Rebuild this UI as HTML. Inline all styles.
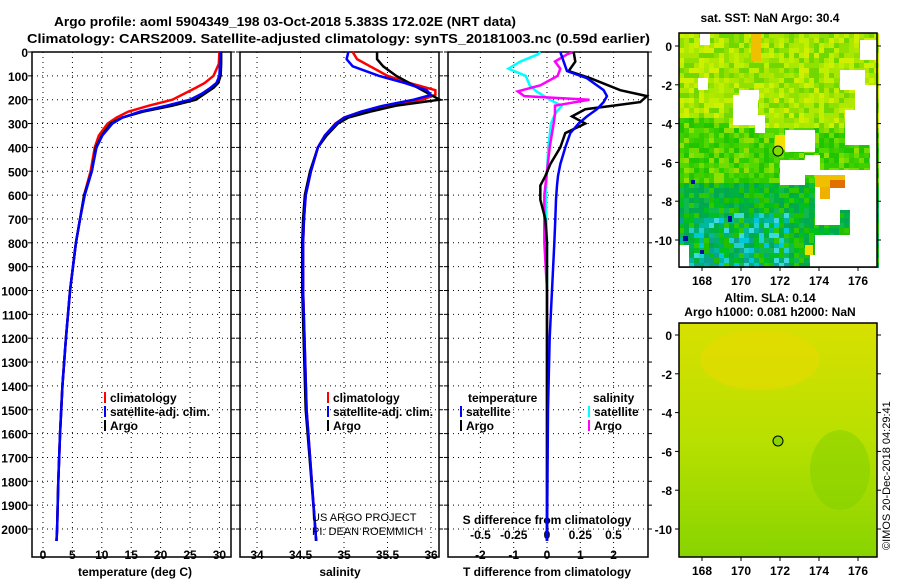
<!DOCTYPE html>
<html><head><meta charset="utf-8"><style>
body{margin:0;background:#fff;}
svg{display:block;font-family:"Liberation Sans",sans-serif;font-weight:bold;}
</style></head><body>
<svg id="c" width="900" height="580" viewBox="0 0 900 580">
<defs><linearGradient id="sla" x1="0" y1="0" x2="0" y2="1"><stop offset="0" stop-color="#d8e000"/><stop offset="0.5" stop-color="#b8e000"/><stop offset="1" stop-color="#88d400"/></linearGradient></defs>
<text x="54" y="26" font-size="13" textLength="462" lengthAdjust="spacingAndGlyphs">Argo profile: aoml 5904349_198 03-Oct-2018 5.383S 172.02E (NRT data)</text>
<text x="27" y="43" font-size="13" textLength="623" lengthAdjust="spacingAndGlyphs">Climatology: CARS2009. Satellite-adjusted climatology: synTS_20181003.nc (0.59d earlier)</text>
<text x="890" y="550" font-size="11" font-weight="normal" transform="rotate(-90 890 550)">©IMOS 20-Dec-2018 04:29:41</text>
</svg>
<script>
// ---- data ----
const depthT = [0,50,100,130,150,175,200,225,250,275,300,350,400,500,600,700,800,900,1000,1200,1400,1600,1800,2000,2050];
const argoT  = [30.3,30.3,30.2,29.8,29,27.5,26,22,17,13.5,11.5,10,9,8.3,7,6.3,5.6,5.1,4.6,3.9,3.3,2.9,2.6,2.4,2.3];
const climT  = [30,29.9,29,27.5,26,24,22,18,14.5,12.5,11,9.5,8.8,8.1,7,6.3,5.6,5.1,4.6,3.9,3.3,2.9,2.6,2.4,2.3];
const satT   = [30.2,30.1,30,29.5,28.5,27,25,21,16.5,13.5,11.8,10.1,9.1,8.3,7.1,6.3,5.6,5.1,4.6,3.9,3.3,2.9,2.6,2.4,2.3];
const depthS = [0,30,60,100,130,160,180,200,225,250,275,300,350,400,500,600,700,800,1000,1500,2000,2050];
const argoS  = [35.38,35.38,35.45,35.6,35.75,35.9,36.0,36.1,35.6,35.3,35.05,34.93,34.8,34.7,34.61,34.55,34.53,34.52,34.52,34.56,34.67,34.68];
const climS  = [35.1,35.15,35.3,35.5,35.75,36.05,36.05,35.9,35.5,35.2,35.0,34.9,34.78,34.7,34.62,34.56,34.54,34.53,34.53,34.57,34.67,34.68];
const satS   = [35.05,35.03,35.1,35.4,35.7,35.95,36.0,35.8,35.45,35.2,35.0,34.91,34.78,34.7,34.62,34.56,34.54,34.53,34.53,34.57,34.67,34.68];
const dDepth = [0,40,80,110,160,185,210,225,240,270,300,340,400,470,520,560,620,700,800,1000,1200,1500,2050];
const dTsat  = [0.4,0.5,0.6,1.2,1.7,1.8,1.7,1.6,1.5,1.2,0.95,0.7,0.55,0.4,0.33,0.3,0.27,0.25,0.22,0.15,0.08,0.03,0];
const dTargo = [0.8,0.85,0.65,1.3,2.2,3.0,2.8,2.0,1.15,0.75,1.15,0.55,0.4,0.1,-0.05,-0.2,-0.2,-0.05,0,0,0,0,0];
const sDepth = [0,10,40,70,100,140,165,185,200,225,260,300,400,600,800,1000,1500,2050];
const dSsat  = [-0.05,-0.07,-0.2,-0.29,-0.16,-0.13,-0.08,-0.02,0.02,0.11,0.06,0.03,0.01,-0.01,0,0,0,0];
const dSargo = [0.2,0.15,0.06,0.1,0.08,-0.05,-0.22,-0.17,0.32,0.06,0.06,0.05,0.02,-0.02,-0.02,0,0,0];
const depthTicks = [0,100,200,300,400,500,600,700,800,900,1000,1100,1200,1300,1400,1500,1600,1700,1800,1900,2000];
const tTicks = [0,5,10,15,20,25,30];
const sTicks = [34,34.5,35,35.5,36];
const dtTicks = [-2,-1,0,1,2];
const dsTicks = [-0.5,-0.25,0,0.25,0.5];
const dsLabels = ['-0.5','-0.25','0','0.25','0.5'];
const lonTicks = [168,170,172,174,176];
const latTicks = [0,-2,-4,-6,-8,-10];

const svg = document.getElementById('c');
const NS = 'http://www.w3.org/2000/svg';
function el(tag, attrs, parent){const e=document.createElementNS(NS,tag);for(const k in attrs)e.setAttribute(k,attrs[k]);(parent||svg).appendChild(e);return e;}
function txt(x,y,s,size,anchor,fill){const t=el('text',{x:x,y:y,'font-size':size||12,'text-anchor':anchor||'middle',fill:fill||'#000'});t.textContent=s;return t;}

const yD = d => 52 + d*0.2385;
const pTop=52, pBot=557;
const xT = v => 43 + v*5.88;
const xS = v => 257 + (v-34)*87;
const xDT = v => 547 + v*33.3;
const xDS = v => 547 + v*133;

function panel(x0,x1,name){
  const r=el('rect',{x:x0,y:pTop,width:x1-x0,height:pBot-pTop,fill:'none',stroke:'#000','stroke-width':1.5});
  
  
  depthTicks.forEach(d=>{const l=el('line',{x1:x0,x2:x1,y1:yD(d),y2:yD(d),stroke:'#000','stroke-dasharray':'1,4'});
    
    
    el('line',{x1:x0-4,x2:x0,y1:yD(d),y2:yD(d),stroke:'#000'});
    el('line',{x1:x1,x2:x1+4,y1:yD(d),y2:yD(d),stroke:'#000'});});
}
function vgrid(ticks,fx){ticks.forEach(v=>{const l=el('line',{x1:fx(v),x2:fx(v),y1:pTop,y2:pBot,stroke:'#000','stroke-dasharray':'1,4'});
  
  });}
function line(xs,ds,fx,color,name){
  const p=el('polyline',{points:xs.map((v,i)=>fx(v)+','+yD(ds[i])).join(' '),fill:'none',stroke:color,'stroke-width':2.5});
  
  
}
panel(32,231,'temperature-panel'); panel(240,439,'salinity-panel'); panel(448,648,'difference-panel');
vgrid(tTicks,xT); vgrid(sTicks,xS); vgrid(dtTicks,xDT);
depthTicks.forEach(d=>{const t=txt(28,yD(d)+5,String(d),12,'end');
  
  });
tTicks.forEach(v=>{const t=txt(xT(v),559,String(v),12);
  
  });
sTicks.forEach(v=>{const t=txt(xS(v),559,String(v),12);
  
  });
dtTicks.forEach(v=>{const t=txt(xDT(v),559,String(v),12);
  
  });
dsTicks.forEach((v,i)=>{const t=txt(xDS(v),539,dsLabels[i],12);
  
  });
let t;
t=txt(135,576,'temperature (deg C)',12);
t=txt(340,576,'salinity',12);
t=txt(547,576,'T difference from climatology',12);
t=txt(547,524,'S difference from climatology',12);

line(climT,depthT,xT,'#f00','temp-climatology-line');
line(argoT,depthT,xT,'#000','temp-argo-line');
line(satT,depthT,xT,'#00f','temp-satellite-line');
line(climS,depthS,xS,'#f00','sal-climatology-line');
line(argoS,depthS,xS,'#000','sal-argo-line');
line(satS,depthS,xS,'#00f','sal-satellite-line');
line(dSsat,sDepth,xDS,'#0ff','sdiff-satellite-line');
line(dSargo,sDepth,xDS,'#f0f','sdiff-argo-line');
line(dTargo,dDepth,xDT,'#000','tdiff-argo-line');
line(dTsat,dDepth,xDT,'#00f','tdiff-satellite-line');

function legend(x,y,items,name){items.forEach((it,i)=>{
  el('rect',{x:x,y:y+i*14-10,width:2,height:11,fill:it[1]});
  const tt=txt(x+6,y+i*14,it[0],12,'start');
  
  });}
legend(104,402,[['climatology','#f00'],['satellite-adj. clim.','#00f'],['Argo','#000']],'temp-legend');
legend(327,402,[['climatology','#f00'],['satellite-adj. clim.','#00f'],['Argo','#000']],'sal-legend');
t=txt(468,402,'temperature',12,'start');
t=txt(593,402,'salinity',12,'start');
legend(460,416,[['satellite','#00f'],['Argo','#000']],'tdiff-legend');
legend(588,416,[['satellite','#0ff'],['Argo','#f0f']],'sdiff-legend');
t=txt(312,521,'US ARGO PROJECT',11,'start');t.setAttribute('font-weight','normal');
t=txt(312,535,'PI: DEAN ROEMMICH',11,'start');t.setAttribute('font-weight','normal');

// ---- maps ----
const xL = lon => 702 + (lon-168)*19.5;
function mapAxes(y0,y1,lat0y,name){
  const r=el('rect',{x:679,y:y0,width:198,height:y1-y0,fill:'none',stroke:'#000','stroke-width':1.5});
  
  
  lonTicks.forEach(v=>{el('line',{x1:xL(v),x2:xL(v),y1:y1,y2:y1+4,stroke:'#000'});
    const tt=txt(xL(v),y1+18,String(v),12);
    
    });
  latTicks.forEach(v=>{const yy=lat0y + (-v)*19.4;
    el('line',{x1:675,x2:679,y1:yy,y2:yy,stroke:'#000'});
    el('line',{x1:877,x2:881,y1:yy,y2:yy,stroke:'#000'});
    const tt=txt(672,yy+5,String(v),12,'end');
    
    });
}
const g1=el('g',{});
// pixelated SST texture (imagery, not chart data)
const palTop=['#a8e800','#c0f000','#90e000','#d0f000','#70d800','#b0e800'];
const palMid=['#50d800','#30cc00','#70dc00','#20c400','#90e000','#40d000'];
const palBot=['#00b040','#10b850','#00c020','#20c000','#00a850','#30c800'];
const palTeal=['#00b8a0','#20d0d0','#00c8d8','#10a090','#00b070','#40d8e0'];
let hs=12345; function rnd(){hs=(hs*1103515245+12345)&0x7fffffff;return hs/0x7fffffff;}
for(let r=0;r<47;r++){for(let c=0;c<40;c++){
  const x=679+c*5, y=33+r*5, f=r/47;
  let pal = f<0.4?palTop:(f<0.62?palMid:palBot);
  if(f>0.75 && c<22 && rnd()<0.45) pal=palTeal;
  if(f>0.35&&f<0.45&&c<10) pal=palMid;
  el('rect',{x:x,y:y,width:5,height:5,fill:pal[Math.floor(rnd()*pal.length)]},g1);
}}
[[683,236,5,5,'#0010a0'],[728,216,4,6,'#0010a0'],[700,250,4,4,'#0010a0'],[691,180,4,4,'#0010a0']].forEach(a=>el('rect',{x:a[0],y:a[1],width:a[2],height:a[3],fill:a[4]},g1));
[[751,33,10,28,'#f0c000'],[775,135,15,15,'#f0e000'],[805,245,8,10,'#f0e000']].forEach(a=>el('rect',{x:a[0],y:a[1],width:a[2],height:a[3],fill:a[4]},g1));
[[700,33,10,12],[733,95,25,30],[785,130,30,22],[780,160,25,25],[805,155,15,20],[815,170,62,40],[870,140,7,30],[845,110,32,35],[815,235,62,32],[860,40,17,20],[840,70,25,20],[855,85,22,50],[679,245,10,22],[810,255,10,12],[698,78,10,12],[755,115,10,18],[739,90,20,10],[815,210,25,15],[850,205,27,30]].forEach(a=>el('rect',{x:a[0],y:a[1],width:a[2],height:a[3],fill:'#fff'},g1));
[[815,175,30,12,'#f0c000'],[830,180,15,8,'#e07000'],[820,187,10,12,'#f0b000']].forEach(a=>el('rect',{x:a[0],y:a[1],width:a[2],height:a[3],fill:a[4]},g1));
el('circle',{cx:778,cy:151,r:5,fill:'#7ddc00',stroke:'#000'},g1);
mapAxes(33,267,46,'sst-map-frame');
t=txt(770,22,'sat. SST: NaN Argo: 30.4',12);
const g2=el('g',{});
el('rect',{x:679,y:323,width:198,height:234,fill:'url(#sla)'},g2);
el('ellipse',{cx:760,cy:360,rx:60,ry:30,fill:'#e8d800',opacity:0.6},g2);
el('ellipse',{cx:840,cy:470,rx:30,ry:40,fill:'#80d000',opacity:0.5},g2);
el('circle',{cx:778,cy:441,r:5,fill:'#88d400',stroke:'#000'},g2);
mapAxes(323,557,335,'sla-map-frame');
t=txt(770,302,'Altim. SLA: 0.14',12);
t=txt(770,316,'Argo h1000: 0.081 h2000: NaN',12);
</script>
</body></html>
